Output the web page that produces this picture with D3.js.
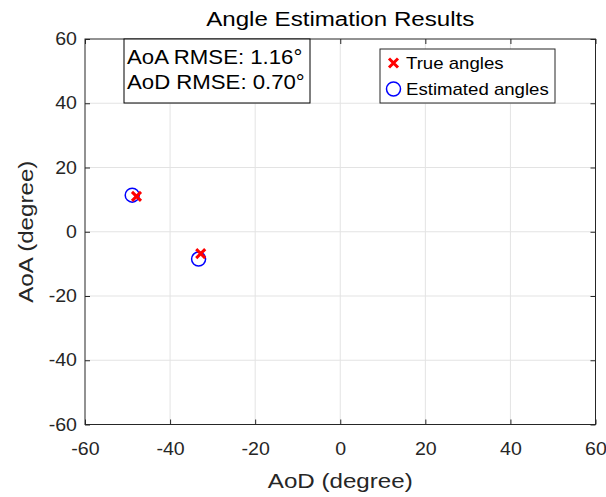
<!DOCTYPE html>
<html>
<head>
<meta charset="utf-8">
<script src="https://cdn.jsdelivr.net/npm/d3@7"></script>
<style>
  body { margin: 0; background: #fff; }
  svg text { font-family: "Liberation Sans", Arial, sans-serif; fill: #262626; }
</style>
</head>
<body>
<div id="chart"></div>
<script>
  // data
  var trueAoD = [-47.9, -32.8];
  var trueAoA = [11.0, -6.8];
  var estAoD = [-48.9, -33.3];
  var estAoA = [11.4, -8.5];
  var xTicks = [-60, -40, -20, 0, 20, 40, 60];
  var yTicks = [-60, -40, -20, 0, 20, 40, 60];
  var rmseLines = ['AoA RMSE: 1.16\u00b0', 'AoD RMSE: 0.70\u00b0'];
  var legendLabels = ['True angles', 'Estimated angles'];

  var W = 606, H = 497;
  var SX = 1.15; // glyphs in the picture are a bit wider than tall
  var TSX = 1.12;
  var box = { left: 85, right: 595.5, top: 39, bottom: 424.5 };
  var ink = '#262626';

  var svg = d3.select('#chart').append('svg')
    .attr('width', W)
    .attr('height', H);

  var x = d3.scaleLinear().domain([-60, 60]).range([box.left, box.right]);
  var y = d3.scaleLinear().domain([-60, 60]).range([box.bottom, box.top]);

  // plain hyphen for negatives, like the original
  function fmt(d) { return String(d); }

  function label(x0, y0, str, size, anchor, rot) {
    return svg.append('text')
      .attr('transform', 'translate(' + x0 + ',' + y0 + ')' + (rot ? ' rotate(' + rot + ')' : '') + ' scale(' + SX + ',1)')
      .attr('text-anchor', anchor || 'middle')
      .style('font-size', size + 'px')
      .text(str);
  }

  // grid
  svg.append('g').selectAll('line')
    .data(xTicks.slice(1, -1))
    .enter().append('line')
    .attr('x1', function (d) { return x(d); })
    .attr('x2', function (d) { return x(d); })
    .attr('y1', box.top).attr('y2', box.bottom)
    .attr('stroke', '#e3e3e3').attr('stroke-width', 1);
  svg.append('g').selectAll('line')
    .data(yTicks.slice(1, -1))
    .enter().append('line')
    .attr('y1', function (d) { return y(d); })
    .attr('y2', function (d) { return y(d); })
    .attr('x1', box.left).attr('x2', box.right)
    .attr('stroke', '#e3e3e3').attr('stroke-width', 1);

  // axes, ticks pointing inward
  var gx = svg.append('g')
    .attr('transform', 'translate(0,' + box.bottom + ')')
    .call(d3.axisBottom(x).tickValues(xTicks).tickSize(-5).tickFormat(fmt));
  gx.selectAll('text')
    .attr('y', 18.5)
    .attr('transform', 'scale(' + TSX + ',1)')
    .style('font-size', '17.5px');

  var gy = svg.append('g')
    .attr('transform', 'translate(' + box.left + ',0)')
    .call(d3.axisLeft(y).tickValues(yTicks).tickSize(-5).tickFormat(fmt));
  gy.selectAll('text')
    .attr('x', -8 / TSX)
    .attr('transform', 'scale(' + TSX + ',1)')
    .style('font-size', '17.5px');

  svg.append('g')
    .attr('transform', 'translate(0,' + box.top + ')')
    .call(d3.axisTop(x).tickValues(xTicks).tickSize(-5).tickFormat(''));
  svg.append('g')
    .attr('transform', 'translate(' + box.right + ',0)')
    .call(d3.axisRight(y).tickValues(yTicks).tickSize(-5).tickFormat(''));

  svg.selectAll('.domain').remove();
  svg.selectAll('.tick line').attr('stroke', ink);
  svg.selectAll('.tick text').attr('fill', ink);

  svg.append('rect')
    .attr('x', box.left).attr('y', box.top)
    .attr('width', box.right - box.left)
    .attr('height', box.bottom - box.top)
    .attr('fill', 'none')
    .attr('stroke', ink)
    .attr('stroke-width', 1);

  // points
  var est = estAoD.map(function (d, i) { return { x: d, y: estAoA[i] }; });
  var tru = trueAoD.map(function (d, i) { return { x: d, y: trueAoA[i] }; });

  svg.append('g').selectAll('circle')
    .data(est)
    .enter().append('circle')
    .attr('cx', function (d) { return x(d.x); })
    .attr('cy', function (d) { return y(d.y); })
    .attr('r', 7)
    .attr('fill', 'none')
    .attr('stroke', '#0000ff')
    .attr('stroke-width', 1.5);

  function cross(cx, cy, s) {
    return 'M' + (cx - s) + ',' + (cy - s) + 'L' + (cx + s) + ',' + (cy + s) +
      'M' + (cx - s) + ',' + (cy + s) + 'L' + (cx + s) + ',' + (cy - s);
  }

  svg.append('g').selectAll('path')
    .data(tru)
    .enter().append('path')
    .attr('d', function (d) { return cross(x(d.x), y(d.y), 4.5); })
    .attr('stroke', '#ff0000')
    .attr('stroke-width', 3)
    .attr('fill', 'none');

  // RMSE text box
  svg.append('rect')
    .attr('x', 124).attr('y', box.top)
    .attr('width', 186).attr('height', 64)
    .attr('fill', '#fff')
    .attr('stroke', '#000')
    .attr('stroke-width', 1);
  rmseLines.forEach(function (s, i) {
    label(127, 64 + i * 25, s, 19.3, 'start').style('fill', '#000');
  });

  // legend
  svg.append('rect')
    .attr('x', 380).attr('y', 49)
    .attr('width', 175).attr('height', 54)
    .attr('fill', '#fff')
    .attr('stroke', ink)
    .attr('stroke-width', 1);
  svg.append('path')
    .attr('d', cross(393.5, 63, 4.5))
    .attr('stroke', '#ff0000')
    .attr('stroke-width', 3)
    .attr('fill', 'none');
  svg.append('circle')
    .attr('cx', 393.5).attr('cy', 89)
    .attr('r', 7)
    .attr('fill', 'none')
    .attr('stroke', '#0000ff')
    .attr('stroke-width', 1.5);
  legendLabels.forEach(function (s, i) {
    label(406, 69 + i * 26, s, 16.2, 'start').style('fill', '#000');
  });

  // title and axis labels
  label((box.left + box.right) / 2, 26, 'Angle Estimation Results', 21, 'middle').style('fill', '#000');
  label((box.left + box.right) / 2, 488, 'AoD (degree)', 21, 'middle');
  label(33, (box.top + box.bottom) / 2, 'AoA (degree)', 21, 'middle', -90);
</script>
</body>
</html>
